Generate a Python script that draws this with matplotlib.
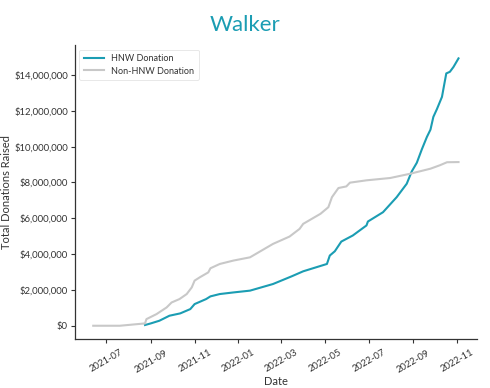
import matplotlib
matplotlib.use("Agg")
import matplotlib.pyplot as plt
import matplotlib.dates as mdates
import matplotlib.ticker as mticker
import pandas as pd

# cumulative donations (USD)
hnw_dates = ["2021-08-24", "2021-09-01", "2021-09-13", "2021-09-27", "2021-10-12",
             "2021-10-26", "2021-11-01", "2021-11-17", "2021-11-23", "2021-12-06",
             "2021-12-25", "2022-01-17", "2022-02-18", "2022-03-16", "2022-04-01",
             "2022-05-04", "2022-05-08", "2022-05-15", "2022-05-24", "2022-06-09",
             "2022-06-28", "2022-06-30", "2022-07-21", "2022-08-09", "2022-08-23",
             "2022-08-30", "2022-09-06", "2022-09-13", "2022-09-20", "2022-09-25",
             "2022-09-29", "2022-10-04", "2022-10-11", "2022-10-14", "2022-10-17",
             "2022-10-22", "2022-10-27", "2022-11-03"]
hnw_values = [0.04, 0.13, 0.28, 0.56, 0.69,
              0.93, 1.21, 1.49, 1.64, 1.77,
              1.86, 1.96, 2.33, 2.76, 3.04,
              3.45, 3.92, 4.16, 4.70, 5.04,
              5.60, 5.82, 6.34, 7.18, 7.93,
              8.62, 9.10, 9.85, 10.54, 10.95,
              11.66, 12.10, 12.78, 13.44, 14.09,
              14.18, 14.45, 14.93]

non_dates = ["2021-06-13", "2021-07-20", "2021-08-24", "2021-08-26", "2021-09-09",
             "2021-09-23", "2021-09-30", "2021-10-11", "2021-10-21", "2021-10-28",
             "2021-11-01", "2021-11-08", "2021-11-20", "2021-11-23", "2021-12-06",
             "2021-12-25", "2022-01-17", "2022-02-18", "2022-03-13", "2022-03-27",
             "2022-04-01", "2022-04-25", "2022-05-06", "2022-05-11", "2022-05-20",
             "2022-05-31", "2022-06-05", "2022-06-28", "2022-07-31", "2022-08-28",
             "2022-09-25", "2022-10-08", "2022-10-18", "2022-11-03"]
non_values = [0.0, 0.0, 0.13, 0.37, 0.65,
              1.02, 1.30, 1.49, 1.77, 2.14,
              2.52, 2.70, 2.98, 3.21, 3.45,
              3.64, 3.82, 4.57, 4.98, 5.41,
              5.69, 6.25, 6.62, 7.18, 7.69,
              7.78, 7.99, 8.12, 8.25, 8.49,
              8.77, 8.96, 9.13, 9.14]

plt.rcParams["font.family"] = ["Lato", "DejaVu Sans"]

fig = plt.figure(figsize=(4.9, 3.88), dpi=100)
ax = fig.add_axes([0.153, 0.126, 0.82, 0.758])

ax.plot(pd.to_datetime(hnw_dates), [v * 1e6 for v in hnw_values],
        color="#1b9db3", lw=1.5, label="HNW Donation")
ax.plot(pd.to_datetime(non_dates), [v * 1e6 for v in non_values],
        color="#c8c8c8", lw=1.5, label="Non-HNW Donation")

ax.yaxis.set_major_locator(mticker.MultipleLocator(2e6))
ax.yaxis.set_major_formatter(mticker.StrMethodFormatter("${x:,.0f}"))
ax.xaxis.set_major_locator(mdates.MonthLocator(bymonth=[1, 3, 5, 7, 9, 11]))
ax.xaxis.set_major_formatter(mdates.DateFormatter("%Y-%m"))

for s in ["top", "right"]:
    ax.spines[s].set_visible(False)
for s in ["left", "bottom"]:
    ax.spines[s].set_color("#333333")
    ax.spines[s].set_linewidth(0.9)

ax.tick_params(axis="both", labelsize=6.8, colors="#333333", length=3, width=0.8)
ax.tick_params(axis="y", pad=2)
plt.setp(ax.get_xticklabels(), rotation=30)

ax.set_xlabel("Date", fontsize=8, color="#333333")
ax.set_ylabel("Total Donations Raised", fontsize=8, color="#333333")
ax.yaxis.set_label_coords(-0.157, 0.5)
ax.xaxis.set_label_coords(0.5, -0.126)
fig.text(0.5, 0.935, "Walker", ha="center", va="center", fontsize=16, color="#1b9db3")

leg = ax.legend(loc="upper left", fontsize=6.5, frameon=True, handlelength=2.2,
                borderpad=0.5, labelspacing=0.4)
leg.get_frame().set_edgecolor("#dddddd")
leg.get_frame().set_linewidth(0.6)
for t in leg.get_texts():
    t.set_color("#333333")

fig.savefig("out.png", dpi=100)
